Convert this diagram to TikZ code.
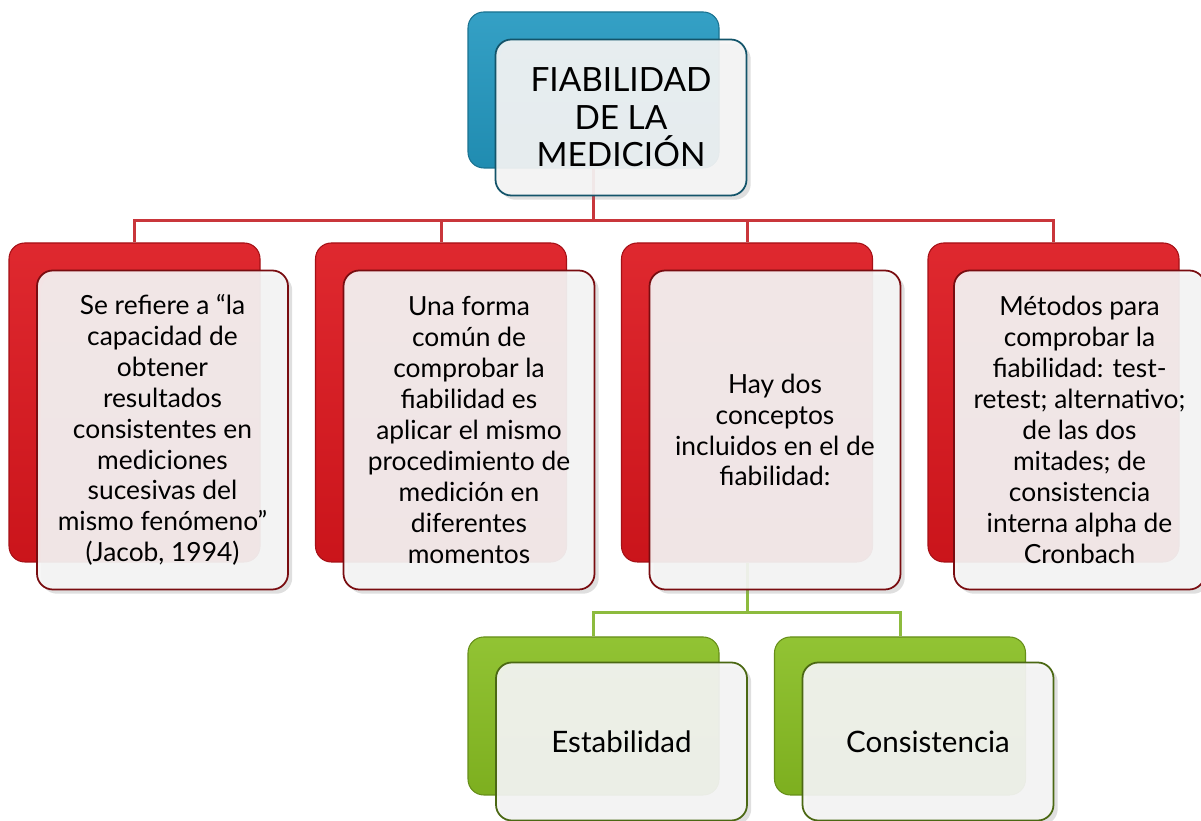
\documentclass[tikz,border=0pt]{standalone}
\usepackage{fontspec}
\setmainfont{Lato}
\usetikzlibrary{shadows}

\definecolor{bluebox}{HTML}{2398C0}
\definecolor{redbox}{HTML}{DC161D}
\definecolor{greenbox}{HTML}{88BE22}
\definecolor{redline}{HTML}{C9363B}
\definecolor{greenline}{HTML}{8DBB3E}

\begin{document}
\begin{tikzpicture}[
  back/.style={rounded corners=4.5pt, minimum width=2.51cm, inner sep=0pt, draw=#1!75!black, line width=0.3pt, top color=#1!92!white, bottom color=#1!92!black},
  front/.style={rounded corners=4.5pt, minimum width=2.51cm, inner sep=1pt, draw=#1!55!black, line width=0.5pt, fill=gray!8, fill opacity=0.92, text opacity=1, align=center, drop shadow={opacity=0.25, shadow xshift=1.2pt, shadow yshift=-1.2pt}},
  bigtext/.style={font=\fontsize{9.5}{10.7}\selectfont},
  midtext/.style={font=\fontsize{7.5}{8.8}\selectfont},
  lowtext/.style={font=\fontsize{8.4}{10}\selectfont},
  link/.style={line width=0.85pt, draw=#1}
]
\useasboundingbox (0,0) rectangle (12.01,-8.21);

\node[back=bluebox, minimum height=1.56cm] (topb) at (5.935,-0.90) {};
\node[back=redbox, minimum height=3.19cm] (r1b) at (1.345,-4.025) {};
\node[back=redbox, minimum height=3.19cm] (r2b) at (4.41,-4.025) {};
\node[back=redbox, minimum height=3.19cm] (r3b) at (7.47,-4.025) {};
\node[back=redbox, minimum height=3.19cm] (r4b) at (10.535,-4.025) {};
\node[back=greenbox, minimum height=1.58cm] (g1b) at (5.935,-7.16) {};
\node[back=greenbox, minimum height=1.58cm] (g2b) at (9.00,-7.16) {};

\draw[link=redline] (topb.south) -- ++(0,-0.52) -| (r1b.north);
\draw[link=redline] (topb.south) -- ++(0,-0.52) -| (r2b.north);
\draw[link=redline] (topb.south) -- ++(0,-0.52) -| (r3b.north);
\draw[link=redline] (topb.south) -- ++(0,-0.52) -| (r4b.north);
\draw[link=greenline] (r3b.south) -- ++(0,-0.50) -| (g1b.north);
\draw[link=greenline] (r3b.south) -- ++(0,-0.50) -| (g2b.north);

\node[front=bluebox, bigtext, minimum height=1.56cm] (topf) at (6.21,-1.175) {FIABILIDAD\\DE LA\\MEDICIÓN};
\node[front=redbox, midtext, minimum height=3.19cm] (r1f) at (1.625,-4.30) {Se refiere a “la\\capacidad de\\obtener\\resultados\\consistentes en\\mediciones\\sucesivas del\\mismo fenómeno”\\(Jacob, 1994)};
\node[front=redbox, midtext, minimum height=3.19cm] (r2f) at (4.69,-4.30) {Una forma\\común de\\comprobar la\\fiabilidad es\\aplicar el mismo\\procedimiento de\\medición en\\diferentes\\momentos};
\node[front=redbox, midtext, minimum height=3.19cm] (r3f) at (7.75,-4.30) {Hay dos\\conceptos\\incluidos en el de\\fiabilidad:};
\node[front=redbox, midtext, minimum height=3.19cm] (r4f) at (10.795,-4.30) {Métodos para\\comprobar la\\fiabilidad: test-\\retest; alternativo;\\de las dos\\mitades; de\\consistencia\\interna alpha de\\Cronbach};
\node[front=greenbox, lowtext, minimum height=1.58cm] (g1f) at (6.215,-7.415) {Estabilidad};
\node[front=greenbox, lowtext, minimum height=1.58cm] (g2f) at (9.28,-7.415) {Consistencia};
\end{tikzpicture}
\end{document}
